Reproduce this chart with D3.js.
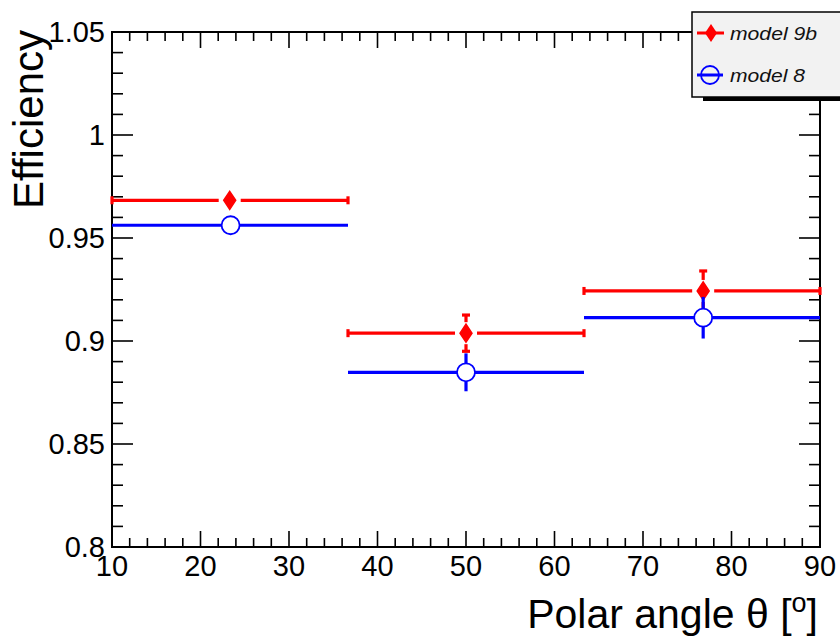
<!DOCTYPE html>
<html><head><meta charset="utf-8">
<script src="https://cdn.jsdelivr.net/npm/d3@7"></script>
<style>body{margin:0;background:#fff}svg{display:block;font-family:"Liberation Sans",Arial,sans-serif}</style>
</head><body><svg id="c" width="840" height="637"></svg>
<script>
const binEdges = [10, 36.667, 63.333, 90];
const model9bX = [23.3, 50, 76.8];
const model9bY = [0.9683, 0.9038, 0.9243];
const model9bErr = [0.003, 0.0088, 0.0097];
const model8X = [23.4, 50, 76.8];
const model8Y = [0.9562, 0.8848, 0.9113];
const model8Err = [0.003, 0.0092, 0.0101];
const xTicks = [10, 20, 30, 40, 50, 60, 70, 80, 90];
const yTicks = [0.8, 0.85, 0.9, 0.95, 1, 1.05];
const yTickLabels = ["0.8", "0.85", "0.9", "0.95", "1", "1.05"];
const legendLabels = ["model 9b", "model 8"];

const svg = d3.select("#c");
const L = 112, R = 820, T = 32, B = 547;
const x = d3.scaleLinear().domain([10, 90]).range([L, R]);
const y = d3.scaleLinear().domain([0.8, 1.05]).range([B, T]);

// frame
svg.append("rect").attr("x", L).attr("y", T).attr("width", R - L).attr("height", B - T)
  .attr("fill", "none").attr("stroke", "#000").attr("stroke-width", 2);

// ticks
const g = svg.append("g").attr("stroke", "#000").attr("stroke-width", 1.6);
d3.range(10, 90.001, 2).forEach(v => {
  const major = Math.abs(v % 10) < 1e-6;
  const len = major ? 16 : 9;
  g.append("line").attr("x1", x(v)).attr("x2", x(v)).attr("y1", B).attr("y2", B - len);
  g.append("line").attr("x1", x(v)).attr("x2", x(v)).attr("y1", T).attr("y2", T + len);
});
d3.range(0, 26).forEach(i => {
  const v = 0.8 + i * 0.01;
  const major = i % 5 === 0;
  const len = major ? 21 : 11;
  g.append("line").attr("x1", L).attr("x2", L + len).attr("y1", y(v)).attr("y2", y(v));
  g.append("line").attr("x1", R).attr("x2", R - len).attr("y1", y(v)).attr("y2", y(v));
});

// tick labels
svg.append("g").selectAll("text").data(xTicks).join("text")
  .attr("x", d => x(d)).attr("y", 576).attr("text-anchor", "middle")
  .attr("font-size", 29).text(d => d);
svg.append("g").selectAll("text").data(yTicks).join("text")
  .attr("x", 105).attr("y", d => y(d) + 10).attr("text-anchor", "end")
  .attr("font-size", 29).text((d, i) => yTickLabels[i]);

// axis titles
const xt = svg.append("text").attr("x", 818).attr("y", 628).attr("text-anchor", "end").attr("font-size", 41);
xt.append("tspan").text("Polar angle θ [");
xt.append("tspan").attr("font-size", 27).attr("dy", -16).text("o");
xt.append("tspan").attr("dy", 16).text("]");
svg.append("text").attr("transform", "translate(43,30) rotate(-90)").attr("text-anchor", "end")
  .attr("font-size", 42).text("Efficiency");

function drawSeries(xs, ys, errs, color, kind) {
  const s = svg.append("g").attr("stroke", color).attr("stroke-width", 3.2);
  xs.forEach((cx, i) => {
    const px = x(cx), py = y(ys[i]);
    const x0 = x(binEdges[i]), x1 = x(binEdges[i + 1]);
    const gap = kind === "diamond" ? 11 : 9;
    s.append("line").attr("x1", x0).attr("x2", px - gap).attr("y1", py).attr("y2", py);
    s.append("line").attr("x1", px + gap).attr("x2", x1).attr("y1", py).attr("y2", py);
    const yt = y(ys[i] + errs[i]), yb = y(ys[i] - errs[i]);
    if (py - yt > gap) s.append("line").attr("x1", px).attr("x2", px).attr("y1", yt).attr("y2", py - gap);
    if (yb - py > gap) s.append("line").attr("x1", px).attr("x2", px).attr("y1", py + gap).attr("y2", yb);
    if (kind === "diamond") {
      s.append("line").attr("x1", x0).attr("x2", x0).attr("y1", py - 4).attr("y2", py + 4);
      s.append("line").attr("x1", x1).attr("x2", x1).attr("y1", py - 4).attr("y2", py + 4);
      if (py - yt > gap) s.append("line").attr("x1", px - 4).attr("x2", px + 4).attr("y1", yt).attr("y2", yt);
      if (yb - py > gap) s.append("line").attr("x1", px - 4).attr("x2", px + 4).attr("y1", yb).attr("y2", yb);
      s.append("path").attr("d", `M${px},${py - 9}L${px + 6},${py}L${px},${py + 9}L${px - 6},${py}Z`)
        .attr("fill", color).attr("stroke-width", 1.5);
    } else {
      s.append("circle").attr("cx", px).attr("cy", py).attr("r", 9)
        .attr("fill", "#fff").attr("stroke-width", 1.8);
    }
  });
}
drawSeries(model9bX, model9bY, model9bErr, "#ff0000", "diamond");
drawSeries(model8X, model8Y, model8Err, "#0000ff", "circle");

// legend
svg.append("rect").attr("x", 703).attr("y", 96).attr("width", 150).attr("height", 5).attr("fill", "#000");
svg.append("rect").attr("x", 692).attr("y", 12).attr("width", 160).attr("height", 85)
  .attr("fill", "#f2f2f2").attr("stroke", "#000").attr("stroke-width", 1.5);
const lg = svg.append("g");
// red entry
lg.append("line").attr("x1", 697).attr("x2", 724).attr("y1", 33).attr("y2", 33).attr("stroke", "#ff0000").attr("stroke-width", 3);
lg.append("path").attr("d", "M711,24L717,33L711,42L705,33Z").attr("fill", "#ff0000");
// blue entry
lg.append("line").attr("x1", 697).attr("x2", 723).attr("y1", 75).attr("y2", 75).attr("stroke", "#0000ff").attr("stroke-width", 3);
lg.append("circle").attr("cx", 710).attr("cy", 75).attr("r", 9).attr("fill", "none").attr("stroke", "#0000ff").attr("stroke-width", 1.8);
lg.selectAll("text").data(legendLabels).join("text")
  .attr("x", 730).attr("y", (d, i) => i === 0 ? 40 : 82)
  .attr("font-size", 19).attr("font-style", "italic").attr("fill", "#111")
  .attr("textLength", (d, i) => i === 0 ? 87 : 75).attr("lengthAdjust", "spacingAndGlyphs")
  .text(d => d);
</script></body></html>
